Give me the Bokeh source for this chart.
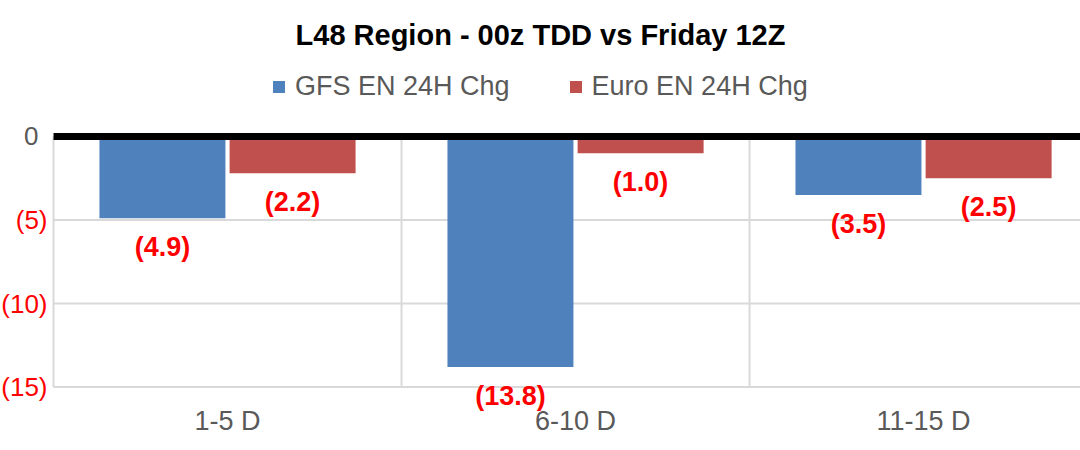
from bokeh.plotting import figure
from bokeh.models import (ColumnDataSource, Range1d, LabelSet, Label, Legend, LegendItem)
from bokeh.core.properties import value
from bokeh.transform import dodge
from bokeh.embed import file_html
from bokeh.resources import INLINE

# ---- data ----
chart_title = "L48 Region - 00z TDD vs Friday 12Z"
categories = ["1-5 D", "6-10 D", "11-15 D"]
series_names = ["GFS EN 24H Chg", "Euro EN 24H Chg"]
gfs = [-4.9, -13.8, -3.5]
euro = [-2.2, -1.0, -2.5]
y_ticks = [-15, -10, -5, 0]

FONT = "Liberation Sans"
BLUE = "#4F81BD"
RED = "#C0504D"
GRAY = "#595959"
GRID = "#D9D9D9"
LBL_RED = "#FF0000"


def fmt(v):
    return f"({abs(v):.1f})" if v < 0 else f"{v:.1f}"


def tick_fmt(t):
    return f"({abs(t)})" if t < 0 else f"{t}"


n = len(categories)
centers = [i + 0.5 for i in range(n)]
src = ColumnDataSource(dict(
    x=centers,
    cat=categories,
    gfs=gfs,
    euro=euro,
    gfs_lbl=[fmt(v) for v in gfs],
    euro_lbl=[fmt(v) for v in euro],
))

neg_ticks = [t for t in y_ticks if t < 0]
zero_ticks = [t for t in y_ticks if t == 0]
y_min = min(y_ticks)

# frame covers the whole canvas; category boundary 0 sits 53px in, 348px per category
p = figure(width=1080, height=450, output_backend="svg", toolbar_location=None,
           x_range=Range1d(-0.1523, 2.951), y_range=Range1d(-18.80, 8.14),
           min_border=0)
p.xaxis.visible = False
p.yaxis.visible = False
p.xgrid.visible = False
p.ygrid.visible = False
p.outline_line_color = None
p.background_fill_color = "white"
p.border_fill_color = "white"

# gridlines (category separators and value lines)
bounds = list(range(n + 1))
p.segment(x0=bounds, x1=bounds, y0=[0] * len(bounds), y1=[y_min] * len(bounds),
          line_color=GRID, line_width=2)
p.segment(x0=[0] * len(neg_ticks), x1=[n] * len(neg_ticks), y0=neg_ticks, y1=neg_ticks,
          line_color=GRID, line_width=2)

OFF = 0.187
W = 0.362
r1 = p.vbar(x=dodge("x", -OFF, range=p.x_range), top=0, bottom="gfs", width=W,
            source=src, fill_color=BLUE, line_color=None)
r2 = p.vbar(x=dodge("x", OFF, range=p.x_range), top=0, bottom="euro", width=W,
            source=src, fill_color=RED, line_color=None)

# zero line
p.segment(x0=[0], x1=[n], y0=zero_ticks, y1=zero_ticks, line_color="black", line_width=7)

# data labels
for col, off in (("gfs", -OFF), ("euro", OFF)):
    p.add_layout(LabelSet(x=dodge("x", off, range=p.x_range), y=col, text=col + "_lbl",
                          source=src, y_offset=-29, text_align="center",
                          text_baseline="middle", text_font=value(FONT),
                          text_font_size="27px", text_font_style="bold",
                          text_color=LBL_RED))

# y tick labels
p.text(x=[0] * len(neg_ticks), y=neg_ticks, text=[tick_fmt(t) for t in neg_ticks],
       x_offset=-6, text_align="right", text_baseline="middle",
       text_font=value(FONT), text_font_size="26px", text_color=LBL_RED)
p.text(x=[0] * len(zero_ticks), y=zero_ticks, text=[tick_fmt(t) for t in zero_ticks],
       x_offset=-15, text_align="right", text_baseline="middle",
       text_font=value(FONT), text_font_size="26px", text_color=GRAY)

# category labels
p.text(x="x", y=y_min, text="cat", source=src, y_offset=34, text_align="center",
       text_baseline="middle", text_font=value(FONT), text_font_size="27px",
       text_color=GRAY)

# legend
legend = Legend(items=[LegendItem(label=series_names[0], renderers=[r1]),
                       LegendItem(label=series_names[1], renderers=[r2])],
                orientation="horizontal", location=(271, 348),
                label_text_font=FONT, label_text_font_size="27px",
                label_text_color=GRAY, glyph_width=15, glyph_height=15,
                label_standoff=9, spacing=58, padding=0, margin=0,
                border_line_color=None, background_fill_alpha=0)
p.add_layout(legend)

# title
p.add_layout(Label(x=540, y=416, x_units="screen", y_units="screen", text=chart_title,
                   text_align="center", text_baseline="middle", text_font=FONT,
                   text_font_size="29px", text_font_style="bold", text_color="black"))

open("out.html", "w").write(file_html(p, INLINE))
